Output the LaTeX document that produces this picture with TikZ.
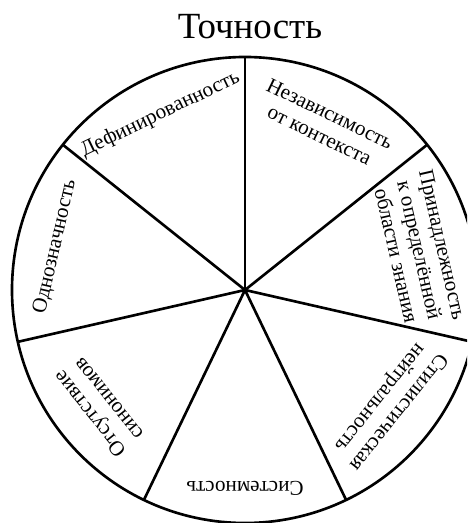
\documentclass[tikz,border=0pt]{standalone}
\usepackage{fontspec}
\setmainfont{Liberation Serif}

\begin{document}
\begin{tikzpicture}[line width=1.5pt,
  sector/.style={font=\fontsize{12}{13.5}\selectfont,align=center,inner sep=0pt,anchor=north}]
\useasboundingbox (-4.9,-4.66) rectangle (4.44,5.8);
\clip (-4.9,-4.66) rectangle (4.44,5.8);
\def\R{4.66}
% --- title and wheel ---------------------------------------------------
\node[font=\fontsize{21}{25}\selectfont,anchor=base] (title) at (0.1,5.03) {Точность};
\coordinate (o) at (0,0);
\draw (o) circle (\R);
% seven equal slices, first spoke straight up
\foreach \i in {0,...,6} {
  \coordinate (rim\i) at ({90+\i*360/7}:\R);
  \draw (o) -- (rim\i);
}
% labels: tangent to the rim, first line outside
\foreach \i/\r/\txt in {0/4.12/{Дефинированность}, 1/4.1/{Однозначность},
                        2/4.15/{Отсутствие\\синонимов}, 3/4.14/{Системность},
                        4/4.12/{Стилистическая\\нейтральность},
                        5/4.22/{Принадлежность\\к определённой\\области знания},
                        6/4.08/{Независимость\\от контекста}} {
  \node[sector,rotate={(\i+0.5)*360/7}] (lab\i) at ({90+(\i+0.5)*360/7}:\r) {\txt};
}
\end{tikzpicture}
\end{document}
